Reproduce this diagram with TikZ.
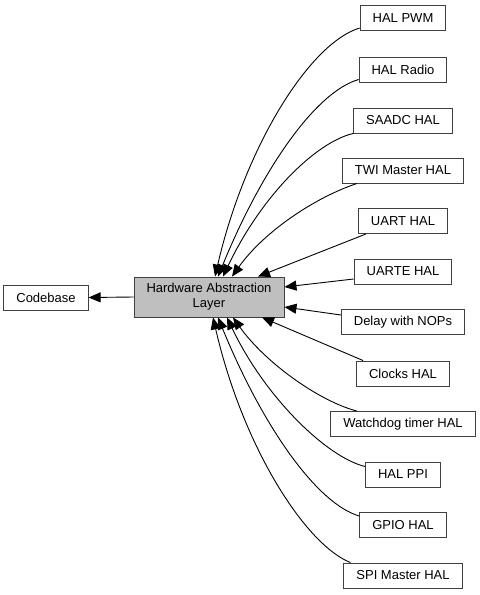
\documentclass[tikz,border=0pt]{standalone}
\usepackage{fontspec}
\setmainfont{Liberation Sans}
\usetikzlibrary{arrows.meta}

\begin{document}
\begin{tikzpicture}[x=1bp,y=-1bp,font=\fontsize{13bp}{15bp}\selectfont,
  box/.style={draw=black!75,line width=0.9bp,fill=white,inner xsep=12.5bp,inner ysep=0pt,minimum height=25bp},
  focus/.style={box,fill=black!25,align=center,minimum height=40bp},
  arr/.style={-{Triangle[length=12bp,width=10bp]},line width=0.9bp}]
\useasboundingbox (0,0) rectangle (480,595);

% ---- the group and its parent
\node[focus] (hal) at (209,297) {Hardware Abstraction\\Layer};
\node[box] (code) at (46,297.5) {Codebase};
\draw[arr] (hal.west)--(code.east);

% ---- member modules
\node[box] (pwm)   at (403,18)    {HAL PWM};
\node[box] (radio) at (403,69.5)  {HAL Radio};
\node[box] (saadc) at (403,120.5) {SAADC HAL};
\node[box] (twi)   at (403,170.5) {TWI Master HAL};
\node[box] (uart)  at (403,221)   {UART HAL};
\node[box] (uarte) at (403,271.5) {UARTE HAL};
\node[box] (nops)  at (403,322)   {Delay with NOPs};
\node[box] (clk)   at (403,373.5) {Clocks HAL};
\node[box] (wdt)   at (403,424)   {Watchdog timer HAL};
\node[box] (ppi)   at (403,474.5) {HAL PPI};
\node[box] (gpio)  at (403,525)   {GPIO HAL};
\node[box] (spi)   at (403,575.5) {SPI Master HAL};

% ---- edges into the group, top side
\draw[arr] ([yshift=-10bp]pwm.west) .. controls +(-50,15) and +(30,-130) .. ([xshift=6bp]hal.north);
\draw[arr] ([yshift=-10bp]radio.west) .. controls +(-42,12) and +(45,-110) .. ([xshift=9bp]hal.north);
\draw[arr] (saadc.south west) .. controls +(-38,9) and +(38,-80) .. ([xshift=14bp]hal.north);
\draw[arr] ([xshift=15bp]twi.south west) .. controls +(-42,14) and +(32,-45) .. ([xshift=23bp]hal.north);
\draw[arr] ([xshift=8bp]uart.south west)--([xshift=49bp]hal.north);

% ---- right side
\draw[arr] ([yshift=-7.5bp]uarte.west)--([yshift=10bp]hal.east);
\draw[arr] ([yshift=7bp]nops.west)--([yshift=-10bp]hal.east);

% ---- bottom side
\draw[arr] ([xshift=7bp]clk.north west)--([xshift=53bp]hal.south);
\draw[arr] ([xshift=26.5bp]wdt.north west) .. controls +(-38,-10) and +(32,45) .. ([xshift=24bp]hal.south);
\draw[arr] ([yshift=8bp]ppi.west) .. controls +(-38,-9) and +(38,80) .. ([xshift=18bp]hal.south);
\draw[arr] ([yshift=9bp]gpio.west) .. controls +(-42,-12) and +(45,110) .. ([xshift=9bp]hal.south);
\draw[arr] ([xshift=7bp]spi.north west) .. controls +(-45,-18) and +(30,130) .. ([xshift=4bp]hal.south);
\end{tikzpicture}
\end{document}
